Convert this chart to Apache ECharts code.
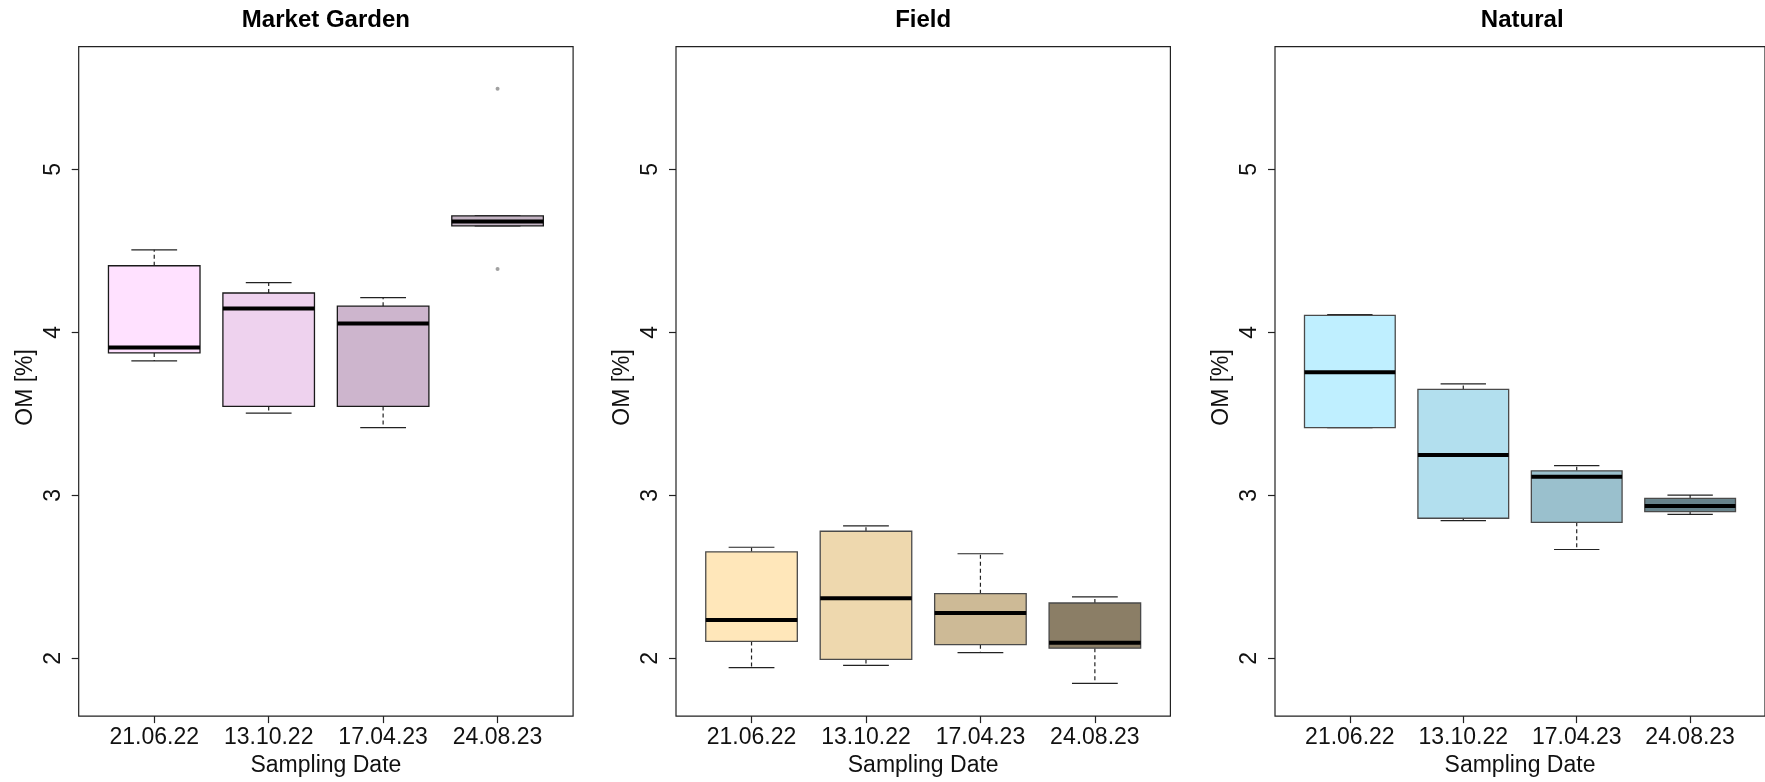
<!DOCTYPE html>
<html>
<head>
<meta charset="utf-8">
<script src="https://cdn.jsdelivr.net/npm/echarts@6/dist/echarts.min.js"></script>
<style>
  html, body { margin: 0; padding: 0; background: #fff; }
  #chart { width: 1765px; height: 782px; }
</style>
</head>
<body>
<div id="chart"></div>
<script>
// sampling dates (x categories)
const dates = ['21.06.22', '13.10.22', '17.04.23', '24.08.23']
const yTicks = [2, 3, 4, 5]

// each row: [lower whisker, Q1, median, Q3, upper whisker]
const gardenStats = [
  [3.825, 3.874, 3.908, 4.409, 4.507],
  [3.505, 3.546, 4.147, 4.242, 4.305],
  [3.416, 3.546, 4.055, 4.161, 4.214],
  [4.654, 4.654, 4.680, 4.715, 4.715]
]
const gardenOutliers = [[4, 5.495], [4, 4.389]]

const fieldStats = [
  [1.943, 2.104, 2.236, 2.654, 2.682],
  [1.957, 1.994, 2.369, 2.780, 2.813],
  [2.035, 2.084, 2.279, 2.397, 2.642],
  [1.847, 2.063, 2.096, 2.340, 2.377]
]

const naturalStats = [
  [3.416, 3.416, 3.756, 4.104, 4.110],
  [2.845, 2.860, 3.248, 3.650, 3.684],
  [2.668, 2.835, 3.114, 3.151, 3.183],
  [2.884, 2.900, 2.935, 2.982, 3.002]
]

const gardenColors = ['#FFE1FF', '#EED2EE', '#CDB5CD', '#C3B3C3']
const fieldColors = ['#FFE7BA', '#EED8AE', '#CDBA96', '#8B7E66']
const naturalColors = ['#BFEFFF', '#B2DFEE', '#9AC0CD', '#68838B']

const FONT = '"Liberation Sans", Arial, sans-serif'
const panels = [
  { name: 'Market Garden', stats: gardenStats, colors: gardenColors, outliers: gardenOutliers, left: 78.7, border: '#1a1a1a' },
  { name: 'Field', stats: fieldStats, colors: fieldColors, outliers: [], left: 676, border: '#4a4a4a' },
  { name: 'Natural', stats: naturalStats, colors: naturalColors, outliers: [], left: 1275, border: '#4a4a4a' }
]
const plotW = 494.4
const plotTop = 46.7
const plotH = 672.3

const makeRender = (colors, border) => (params, api) => {
  const x = api.value(0)
  const lo = api.coord([x, api.value(1)])
  const q1 = api.coord([x, api.value(2)])
  const med = api.coord([x, api.value(3)])
  const q3 = api.coord([x, api.value(4)])
  const hi = api.coord([x, api.value(5)])
  const half = api.size([0.4, 0])[0]
  const stap = api.size([0.2, 0])[0]
  const cx = med[0]
  const thin = { stroke: '#222', lineWidth: 1.2 }
  const dash = { stroke: '#222', lineWidth: 1.2, lineDash: [4, 3] }
  return {
    type: 'group',
    children: [
      { type: 'line', shape: { x1: cx, y1: q3[1], x2: cx, y2: hi[1] }, style: dash },
      { type: 'line', shape: { x1: cx, y1: q1[1], x2: cx, y2: lo[1] }, style: dash },
      { type: 'line', shape: { x1: cx - stap, y1: hi[1], x2: cx + stap, y2: hi[1] }, style: thin },
      { type: 'line', shape: { x1: cx - stap, y1: lo[1], x2: cx + stap, y2: lo[1] }, style: thin },
      {
        type: 'rect',
        shape: { x: cx - half, y: q3[1], width: half * 2, height: q1[1] - q3[1] },
        style: { fill: colors[params.dataIndex], stroke: border, lineWidth: 1.3 }
      },
      { type: 'line', shape: { x1: cx - half, y1: med[1], x2: cx + half, y2: med[1] }, style: { stroke: '#000', lineWidth: 4 } }
    ]
  }
}

const chart = echarts.init(document.getElementById('chart'))
const option = {
  animation: false,
  backgroundColor: '#fff',
  title: panels.map(p => ({
    text: p.name,
    left: p.left + plotW / 2,
    top: 8.5,
    padding: 0,
    textAlign: 'center',
    textStyle: { fontFamily: FONT, fontSize: 24, fontWeight: 'bold', color: '#000' }
  })),
  grid: panels.map(p => ({
    left: p.left,
    top: plotTop,
    width: plotW,
    height: plotH,
    show: true,
    borderColor: '#222',
    borderWidth: 1.2,
    backgroundColor: 'transparent'
  })),
  xAxis: panels.map((p, i) => ({
    gridIndex: i,
    type: 'value',
    min: 0.34,
    max: 4.66,
    name: 'Sampling Date',
    nameLocation: 'middle',
    nameGap: 34,
    nameTextStyle: { fontFamily: FONT, fontSize: 23, color: '#111' },
    axisLine: { show: false },
    splitLine: { show: false },
    axisTick: { show: true, customValues: [1, 2, 3, 4], length: 7, lineStyle: { color: '#222', width: 1.2 } },
    axisLabel: {
      customValues: [1, 2, 3, 4],
      formatter: v => dates[Math.round(v) - 1],
      margin: 10,
      fontFamily: FONT,
      fontSize: 23,
      color: '#111'
    }
  })),
  yAxis: panels.map((p, i) => ({
    gridIndex: i,
    type: 'value',
    min: 1.646,
    max: 5.753,
    name: 'OM [%]',
    nameLocation: 'middle',
    nameGap: 42,
    nameTextStyle: { fontFamily: FONT, fontSize: 23, color: '#111', padding: [0, 12, 0, 0] },
    axisLine: { show: false },
    splitLine: { show: false },
    axisTick: { show: true, customValues: yTicks, length: 7, lineStyle: { color: '#222', width: 1.2 } },
    axisLabel: {
      customValues: yTicks,
      rotate: 90,
      margin: 14,
      fontFamily: FONT,
      fontSize: 23,
      color: '#111'
    }
  })),
  series: panels.flatMap((p, i) => [
    {
      type: 'custom',
      xAxisIndex: i,
      yAxisIndex: i,
      renderItem: makeRender(p.colors, p.border),
      encode: { x: 0, y: [1, 2, 3, 4, 5] },
      data: p.stats.map((s, k) => [k + 1, ...s])
    },
    {
      type: 'scatter',
      xAxisIndex: i,
      yAxisIndex: i,
      symbol: 'circle',
      symbolSize: 4,
      itemStyle: { color: '#8a8a8a' },
      data: p.outliers
    }
  ])
}
chart.setOption(option)
</script>
</body>
</html>
